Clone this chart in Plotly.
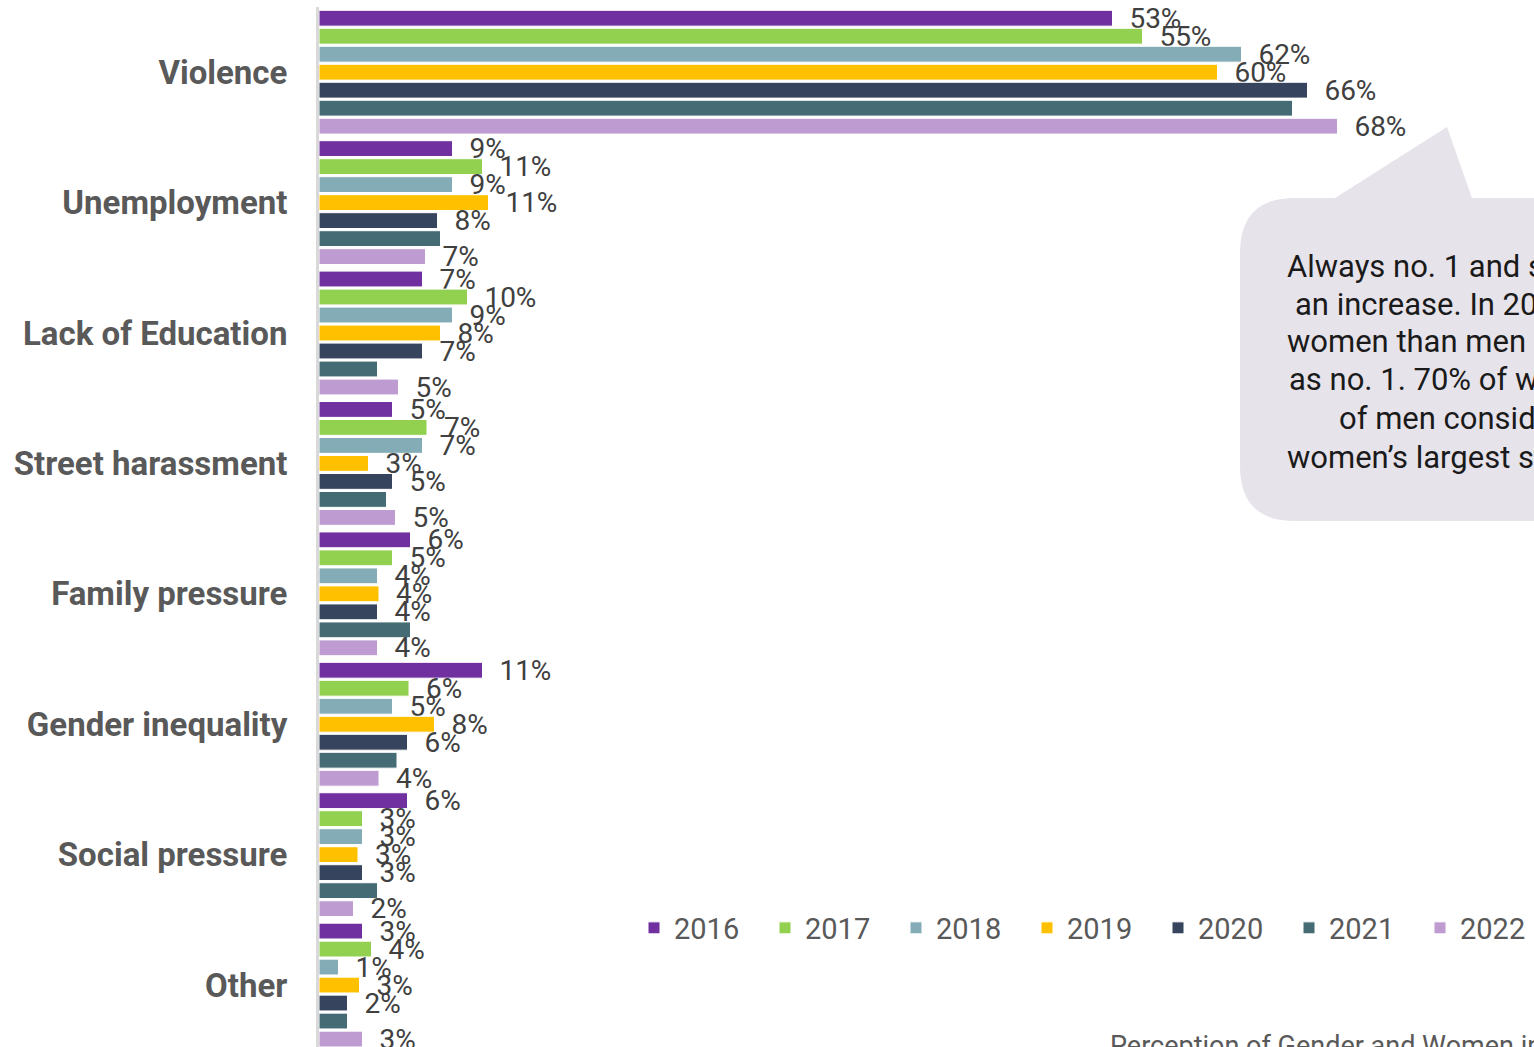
import plotly.graph_objects as go

categories = ["Violence", "Unemployment", "Lack of Education", "Street harassment",
              "Family pressure", "Gender inequality", "Social pressure", "Other"]
years = ["2016", "2017", "2018", "2019", "2020", "2021", "2022"]

v2016 = [52.9, 8.9, 6.9, 4.9, 6.1, 10.9, 5.9, 2.9]
v2017 = [54.9, 10.9, 9.9, 7.2, 4.9, 6.0, 2.9, 3.5]
v2018 = [61.5, 8.9, 8.9, 6.9, 3.9, 4.9, 2.9, 1.3]
v2019 = [59.9, 11.3, 8.1, 3.3, 4.0, 7.7, 2.6, 2.7]
v2020 = [65.9, 7.9, 6.9, 4.9, 3.9, 5.9, 2.9, 1.9]
v2021 = [64.9, 8.1, 3.9, 4.5, 6.1, 5.2, 3.9, 1.9]
v2022 = [67.9, 7.1, 5.3, 5.1, 3.9, 4.0, 2.3, 2.9]
series = [v2016, v2017, v2018, v2019, v2020, v2021, v2022]
show_labels = [True, True, True, True, True, False, True]

colors = ["#7030A0", "#92D050", "#84ACB6", "#FFC000", "#37445E", "#456C74", "#BE9BD0"]

callout_lines = ["Always no. 1 and showing", "an increase. In 2022, more",
                 "women than men rated it", "as no. 1. 70% of women",
                 "of men consider it", "women\u2019s largest struggle"]
footer_text = "Perception of Gender and Women in Society"

W, H = 1534, 1047
ML, MR, MT, MB = 319, 0, 7, 0
PW, PH = W - ML - MR, H - MT - MB


def px(x):
    return (x - ML) / PW


def py(y):
    return (H - MB - y) / PH


fig = go.Figure()
for yr, vals, col, lab in zip(years, series, colors, show_labels):
    fig.add_trace(go.Bar(
        name=yr, y=categories, x=vals, orientation="h",
        marker=dict(color=col, line=dict(color="white", width=1)),
        text=["\u00a0\u00a0" + f"{round(v)}%" for v in vals] if lab else None,
        textposition="outside" if lab else "none",
        constraintext="none", cliponaxis=False,
        textfont=dict(family="Roboto", size=28, color="#404040"),
        hoverinfo="skip",
    ))

# callout bubble
pts = [("M", 1240, 253), ("Q", 1240, 198, 1295, 198), ("L", 1335, 198), ("L", 1447, 127),
       ("L", 1472, 198), ("L", 1620, 198), ("L", 1620, 521), ("L", 1295, 521),
       ("Q", 1240, 521, 1240, 466)]
path = ""
for p in pts:
    cmd = p[0]
    coords = p[1:]
    s = []
    for i in range(0, len(coords), 2):
        s.append(f"{px(coords[i]):.5f},{py(coords[i+1]):.5f}")
    path += cmd + " ".join(s) + " "
path += "Z"
fig.add_shape(type="path", path=path, xref="paper", yref="paper",
              fillcolor="#E7E3EA", line=dict(width=0), layer="above")

line_x = [1287, 1295, 1287, 1289, 1339, 1287]
line_y = [266, 304, 342, 380, 418, 457]
for t, lx, ly in zip(callout_lines, line_x, line_y):
    fig.add_annotation(text=t, xref="paper", yref="paper", x=px(lx - 2), y=py(ly),
                       xanchor="left", yanchor="middle", showarrow=False,
                       font=dict(family="Roboto", size=31, color="#1A1A1A"))

fig.add_annotation(text=footer_text, xref="paper", yref="paper", x=px(1108), y=py(1028),
                   xanchor="left", yanchor="top", showarrow=False,
                   font=dict(family="Roboto", size=27, color="#595959"))

fig.update_layout(
    width=W, height=H,
    margin=dict(l=ML, r=MR, t=MT, b=MB, autoexpand=False),
    barmode="group", bargap=0.034, bargroupgap=0.12,
    plot_bgcolor="white", paper_bgcolor="white",
    showlegend=True,
    legend=dict(orientation="h", x=px(634), y=py(928), xanchor="left", yanchor="middle",
                font=dict(family="Roboto", size=29, color="#595959"),
                entrywidth=86, entrywidthmode="pixels", bgcolor="rgba(0,0,0,0)",
                traceorder="normal"),
    xaxis=dict(range=[0, PW / 15.0], showgrid=False, zeroline=False, showline=False,
               showticklabels=False, ticks=""),
    yaxis=dict(range=[7.475, -0.5], showgrid=False, zeroline=False, showline=True,
               linecolor="#D9D9D9", linewidth=3, ticks="", ticklabelstandoff=22,
               tickfont=dict(family="Roboto", size=33, color="#595959", weight="bold")),
)

fig.write_html("out.html", config={"displayModeBar": False},
               post_script="document.body.style.margin='0';document.body.style.overflow='hidden';")
